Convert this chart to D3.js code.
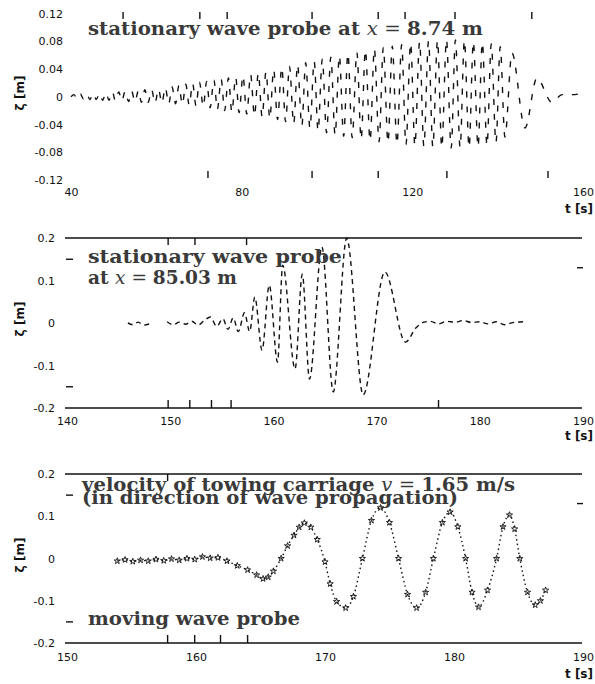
<!DOCTYPE html>
<html>
<head>
<meta charset="utf-8">
<script src="https://cdn.jsdelivr.net/npm/d3@7"></script>
<style>
  html, body { margin: 0; padding: 0; background: #fff; }
  svg { display: block; }
</style>
</head>
<body>
<svg id="chart" width="595" height="684"></svg>
<script>
// ---------------- data ----------------
// Panel 1: stationary probe at x = 8.74 m (crests and troughs of the record)
const probe1Time = [
  40.0, 40.7, 41.4, 42.2, 42.9, 43.7, 44.4, 45.2, 45.9, 46.7,
  47.4, 48.2, 48.9, 49.7, 50.4, 51.2, 51.9, 52.7, 53.5, 54.2,
  55.0, 55.8, 56.5, 57.3, 58.1, 58.9, 59.7, 60.5, 61.3, 62.1,
  62.9, 63.7, 64.5, 65.3, 66.1, 66.9, 67.7, 68.5, 69.3, 70.1,
  71.0, 71.8, 72.6, 73.5, 74.3, 75.2, 76.0, 76.9, 77.7, 78.6,
  79.4, 80.3, 81.2, 82.1, 83.0, 83.9, 84.8, 85.7, 86.6, 87.5,
  88.4, 89.4, 90.3, 91.2, 92.2, 93.1, 94.1, 95.0, 96.0, 97.0,
  97.9, 98.9, 99.9, 100.9, 101.9, 102.9, 103.9, 104.9, 105.9, 107.0,
  108.0, 109.0, 110.1, 111.1, 112.2, 113.2, 114.3, 115.3, 116.4, 117.5,
  118.5, 119.6, 120.6, 121.7, 122.7, 123.8, 124.8, 125.9, 126.9, 128.0,
  129.1, 130.1, 131.2, 132.2, 133.3, 134.3, 135.4, 136.4, 137.5, 138.5,
  139.6, 140.6, 141.7, 143.35, 146.4, 149.2, 152.7, 155.1, 157.5, 159.8
];
const probe1Elev = [
  0.000, 0.003, -0.003, 0.004, -0.003, 0.004, -0.004, 0.005, -0.004, 0.005,
  -0.005, 0.006, -0.005, 0.007, -0.006, 0.007, -0.006, 0.008, -0.007, 0.008,
  -0.007, 0.009, -0.008, 0.010, -0.008, 0.010, -0.009, 0.011, -0.009, 0.013,
  -0.010, 0.014, -0.010, 0.016, -0.011, 0.018, -0.012, 0.019, -0.013, 0.021,
  -0.014, 0.022, -0.016, 0.024, -0.018, 0.025, -0.020, 0.027, -0.022, 0.028,
  -0.023, 0.030, -0.025, 0.032, -0.027, 0.034, -0.029, 0.036, -0.031, 0.039,
  -0.033, 0.042, -0.036, 0.044, -0.039, 0.046, -0.042, 0.049, -0.045, 0.051,
  -0.049, 0.054, -0.052, 0.057, -0.055, 0.059, -0.057, 0.062, -0.059, 0.064,
  -0.061, 0.067, -0.063, 0.069, -0.065, 0.071, -0.066, 0.073, -0.068, 0.075,
  -0.069, 0.077, -0.070, 0.079, -0.071, 0.080, -0.072, 0.081, -0.073, 0.082,
  -0.074, 0.082, -0.073, 0.081, -0.073, 0.079, -0.072, 0.078, -0.070, 0.076,
  -0.066, 0.072, -0.058, 0.063, -0.045, 0.027, -0.008, 0.003, 0.003, 0.005
];

// Panel 2: stationary probe at x = 85.03 m (null marks a break in the record)
const probe2Time = [
  145.9, 146.4, 146.9, 147.4, 148.0, 148.8,
  149.7, 150.3, 150.9, 151.5, 152.1, 152.7, 153.3, 153.9, 154.5, 155.1,
  155.6, 156.1, 156.6, 157.2, 157.7, 158.2, 158.9, 159.6, 160.4, 160.9,
  162.1, 162.8, 163.5, 164.7, 165.8, 167.1, 168.7, 170.8, 172.8, 173.8,
  174.6, 175.2, 176.0, 176.8, 177.6, 178.4, 179.2, 180.0, 180.8, 181.6,
  182.4, 183.2, 184.2
];
const probe2Elev = [
  0.000, -0.004, 0.002, -0.005, -0.002, null,
  0.003, -0.004, 0.002, -0.003, 0.004, -0.005, 0.006, 0.014, -0.008, 0.010,
  -0.015, 0.012, -0.020, 0.024, -0.020, 0.061, -0.064, 0.089, -0.092, 0.136,
  -0.108, 0.115, -0.132, 0.179, -0.162, 0.200, -0.169, 0.120, -0.045, -0.012,
  0.002, 0.004, -0.002, 0.004, 0.002, 0.006, 0.001, 0.003, -0.002, 0.003,
  -0.004, 0.001, 0.003
];

// Panel 3: probe moving with the towing carriage
const probe3Time = [
  153.9, 154.5, 155.1, 155.7, 156.3, 156.9, 157.5, 158.1, 158.7, 159.3,
  159.9, 160.5, 161.1, 161.7, 162.4, 163.2, 164.0, 164.7, 165.2, 165.6,
  166.0, 166.6, 167.1, 167.6, 168.0, 168.4, 168.9, 169.4, 170.0, 170.4,
  170.9, 171.6, 172.2, 172.9, 173.6, 174.3, 175.0, 175.7, 176.4, 177.1,
  177.8, 178.4, 179.1, 179.7, 180.3, 180.9, 181.4, 181.9, 182.6, 183.3,
  183.8, 184.3, 184.7, 185.1, 185.7, 186.3, 186.7, 187.1
];
const probe3Elev = [
  -0.006, -0.003, -0.007, -0.004, -0.006, -0.002, -0.005, -0.001, -0.004, 0.000,
  -0.002, 0.004, 0.001, 0.002, -0.006, -0.017, -0.027, -0.039, -0.048, -0.044,
  -0.030, 0.000, 0.030, 0.055, 0.074, 0.084, 0.074, 0.045, -0.008, -0.060,
  -0.102, -0.117, -0.090, 0.000, 0.090, 0.120, 0.085, 0.000, -0.085, -0.117,
  -0.080, 0.000, 0.085, 0.110, 0.075, 0.000, -0.080, -0.115, -0.075, 0.000,
  0.075, 0.103, 0.070, 0.000, -0.080, -0.110, -0.100, -0.075
];

// axis ticks
const xTicks1 = [40, 80, 120, 160];
const yTicks1 = [-0.12, -0.08, -0.04, 0, 0.04, 0.08, 0.12];
const xTicks2 = [140, 150, 160, 170, 180, 190];
const xTicks3 = [150, 160, 170, 180, 190];
const yTicks23 = [-0.2, -0.1, 0, 0.1, 0.2];

// short tick marks along the frames
const p1TopMarks = [52.2, 70.2, 76.6, 96.5, 112.0, 118.3, 130.0, 148.0];
const p1BottomMarks = [72.1, 96.5, 112.0, 128.1, 151.8];
const p2TopMarks = [149.8, 152.4, 157.4];
const p2BottomMarks = [149.8, 151.9, 154.0, 155.9, 176.0];
const p3TopMarks = [157.8];
const p3BottomMarks = [157.8, 159.9, 161.9, 164.0];
const leftMarks = [0.15, -0.15];
const rightMarks = [0.13];

// ---------------- drawing ----------------
const svg = d3.select("#chart");
svg.append("rect").attr("width", 595).attr("height", 684).attr("fill", "#fff");

const ink = "#111";
const sans = "'DejaVu Sans', sans-serif";
const serif = "'DejaVu Serif', serif";

function zip(ts, zs) { return ts.map((t, i) => ({ t, z: zs[i] })); }

function yFmt1(d) { return d === 0 ? "0" : d.toFixed(2); }
function yFmt2(d) { return d === 0 ? "0" : d.toFixed(1); }

function drawAxes(p) {
  const g = svg.append("g");
  // y labels
  g.append("g")
    .attr("transform", `translate(${p.x.range()[0]},0)`)
    .call(d3.axisLeft(p.y).tickValues(p.yTicks).tickSize(0).tickPadding(p.yPad).tickFormat(p.yFmt))
    .call(a => a.select(".domain").remove())
    .call(a => a.selectAll("text").attr("font-family", sans).attr("font-size", 11).attr("fill", ink));
  // x labels
  g.append("g")
    .attr("transform", `translate(0,${p.y.range()[0]})`)
    .call(d3.axisBottom(p.x).tickValues(p.xTicks).tickSize(0).tickPadding(p.xPad).tickFormat(d3.format("d")))
    .call(a => a.select(".domain").remove())
    .call(a => a.selectAll("text").attr("font-family", sans).attr("font-size", 11).attr("fill", ink));

  const y0 = p.y.range()[0], y1 = p.y.range()[1];
  if (p.frame) {
    g.selectAll(".frame").data([y1, y0]).join("line")
      .attr("x1", p.frameX[0]).attr("x2", p.frameX[1])
      .attr("y1", d => d).attr("y2", d => d)
      .attr("stroke", ink).attr("stroke-width", 1.5);
  }
  g.selectAll(".tm").data(p.topMarks).join("line")
    .attr("x1", d => p.x(d)).attr("x2", d => p.x(d))
    .attr("y1", p.topMarkY[0]).attr("y2", p.topMarkY[1])
    .attr("stroke", ink).attr("stroke-width", 1.4);
  g.selectAll(".bm").data(p.bottomMarks).join("line")
    .attr("x1", d => p.x(d)).attr("x2", d => p.x(d))
    .attr("y1", p.bottomMarkY[0]).attr("y2", p.bottomMarkY[1])
    .attr("stroke", ink).attr("stroke-width", 1.4);
  if (p.leftMarks) {
    g.selectAll(".lm").data(p.leftMarks).join("line")
      .attr("x1", 66).attr("x2", 73)
      .attr("y1", d => p.y(d)).attr("y2", d => p.y(d))
      .attr("stroke", ink).attr("stroke-width", 1.4);
    g.selectAll(".rm").data(p.rightMarks).join("line")
      .attr("x1", 577).attr("x2", 583)
      .attr("y1", d => p.y(d)).attr("y2", d => p.y(d))
      .attr("stroke", ink).attr("stroke-width", 1.4);
  }
  // axis titles
  svg.append("text")
    .attr("transform", `translate(24,${p.yLabelY}) rotate(-90)`)
    .attr("text-anchor", "middle")
    .attr("font-family", sans).attr("font-weight", "bold").attr("font-size", 12).attr("fill", ink)
    .text("ζ [m]");
  svg.append("text")
    .attr("x", 593).attr("y", p.tLabelY)
    .attr("text-anchor", "end")
    .attr("font-family", sans).attr("font-weight", "bold").attr("font-size", 12).attr("fill", ink)
    .text("t [s]");
}

function title(x, y, parts, width, size) {
  const t = svg.append("text")
    .attr("x", x).attr("y", y)
    .attr("font-family", serif).attr("font-size", size)
    .attr("fill", "#3a3a3a")
    .style("white-space", "pre");
  parts.forEach(p => {
    t.append("tspan")
      .attr("font-weight", p.b ? "bold" : "normal")
      .attr("font-style", p.i ? "italic" : "normal")
      .text(p.s);
  });
  t.attr("textLength", width).attr("lengthAdjust", "spacingAndGlyphs");
}

// ---- panel 1 ----
const p1 = {
  x: d3.scaleLinear().domain([40, 160]).range([71, 583]),
  y: d3.scaleLinear().domain([-0.12, 0.12]).range([180, 13.5]),
  xTicks: xTicks1, yTicks: yTicks1, yFmt: yFmt1, yPad: 8, xPad: 8,
  frame: false,
  topMarks: p1TopMarks, bottomMarks: p1BottomMarks,
  topMarkY: [12, 19], bottomMarkY: [171, 178],
  yLabelY: 93, tLabelY: 213
};
drawAxes(p1);
svg.append("path")
  .datum(zip(probe1Time, probe1Elev))
  .attr("fill", "none").attr("stroke", ink).attr("stroke-width", 1.4)
  .attr("stroke-dasharray", "6,9")
  .attr("d", d3.line().x(d => p1.x(d.t)).y(d => p1.y(d.z)).curve(d3.curveMonotoneX));
title(88, 35, [
  { s: "stationary wave probe at ", b: true },
  { s: "x", i: true },
  { s: " = " },
  { s: "8.74 m", b: true }
], 395, 18.5);

// ---- panel 2 ----
const p2 = {
  x: d3.scaleLinear().domain([140, 190]).range([67, 583]),
  y: d3.scaleLinear().domain([-0.2, 0.2]).range([408, 238]),
  xTicks: xTicks2, yTicks: yTicks23, yFmt: yFmt2, yPad: 12, xPad: 9,
  frame: true, frameX: [65, 582],
  topMarks: p2TopMarks, bottomMarks: p2BottomMarks,
  topMarkY: [238, 245], bottomMarkY: [400, 408],
  leftMarks: leftMarks, rightMarks: rightMarks,
  yLabelY: 319, tLabelY: 440
};
drawAxes(p2);
svg.append("path")
  .datum(zip(probe2Time, probe2Elev))
  .attr("fill", "none").attr("stroke", ink).attr("stroke-width", 1.4)
  .attr("stroke-dasharray", "5,4")
  .attr("d", d3.line().defined(d => d.z !== null)
    .x(d => p2.x(d.t)).y(d => p2.y(d.z)).curve(d3.curveMonotoneX));
title(88, 263, [{ s: "stationary wave probe", b: true }], 254, 18.5);
title(88, 284, [
  { s: "at ", b: true },
  { s: "x", i: true },
  { s: " = " },
  { s: "85.03 m", b: true }
], 149, 18.5);

// ---- panel 3 ----
const p3 = {
  x: d3.scaleLinear().domain([150, 190]).range([67, 583]),
  y: d3.scaleLinear().domain([-0.2, 0.2]).range([643, 474]),
  xTicks: xTicks3, yTicks: yTicks23, yFmt: yFmt2, yPad: 12, xPad: 10,
  frame: true, frameX: [65, 582],
  topMarks: p3TopMarks, bottomMarks: p3BottomMarks,
  topMarkY: [474, 481], bottomMarkY: [635, 643],
  leftMarks: leftMarks, rightMarks: rightMarks,
  yLabelY: 555, tLabelY: 678
};
drawAxes(p3);
const d3data = zip(probe3Time, probe3Elev);
svg.append("path")
  .datum(d3data)
  .attr("fill", "none").attr("stroke", ink).attr("stroke-width", 1.4)
  .attr("stroke-dasharray", "1.5,3")
  .attr("d", d3.line().x(d => p3.x(d.t)).y(d => p3.y(d.z)).curve(d3.curveMonotoneX));
svg.append("g").selectAll("path").data(d3data).join("path")
  .attr("transform", d => `translate(${p3.x(d.t)},${p3.y(d.z)})`)
  .attr("d", d3.symbol().type(d3.symbolStar).size(12))
  .attr("fill", "none").attr("stroke", ink).attr("stroke-width", 0.9);
// the two caption lines sit tightly stacked
title(82, 491, [
  { s: "velocity of towing carriage ", b: true },
  { s: "v", i: true },
  { s: " = " },
  { s: "1.65 m/s", b: true }
], 433, 18.5);
title(82, 504, [{ s: "(in direction of wave propagation)", b: true }], 376, 18.5);
title(88, 625, [{ s: "moving wave probe", b: true }], 212, 18.5);
</script>
</body>
</html>
